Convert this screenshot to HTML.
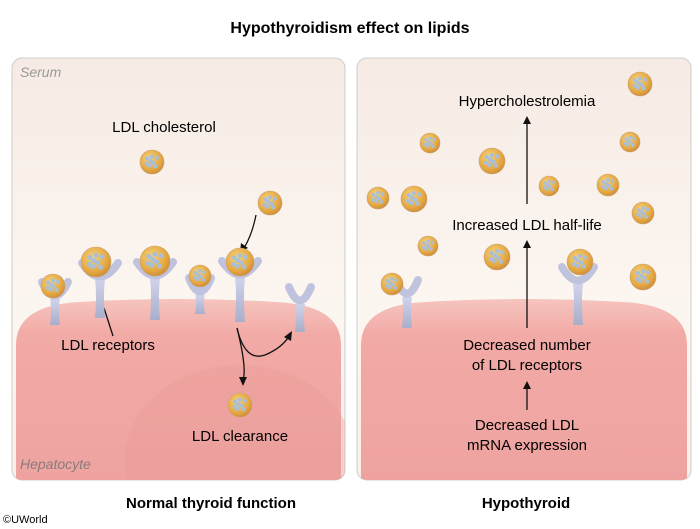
<!DOCTYPE html>
<html><head><meta charset="utf-8"><style>
body{margin:0;background:#fff;}
svg{display:block;font-family:"Liberation Sans",sans-serif;}
</style></head><body>
<svg id="s" width="700" height="529" viewBox="0 0 700 529">
<defs>
<linearGradient id="bg" x1="0" y1="0" x2="0" y2="1"><stop offset="0" stop-color="#f6ebe4"/><stop offset="0.6" stop-color="#fcf6f1"/><stop offset="1" stop-color="#fbefe8"/></linearGradient>
<linearGradient id="cell" x1="0" y1="0" x2="0" y2="1"><stop offset="0" stop-color="#f6c4be"/><stop offset="0.2" stop-color="#f2aaa6"/><stop offset="1" stop-color="#eea3a0"/></linearGradient>
<radialGradient id="ldl" cx="0.4" cy="0.35" r="0.7"><stop offset="0" stop-color="#f6d27a"/><stop offset="0.7" stop-color="#e4a640"/><stop offset="1" stop-color="#c98a3a"/></radialGradient>
<linearGradient id="rc" x1="0" y1="0" x2="0" y2="1"><stop offset="0" stop-color="#d0d3ea"/><stop offset="1" stop-color="#a9aecb"/></linearGradient>
<clipPath id="cl"><rect x="12" y="58" width="333" height="422" rx="10"/></clipPath>
<clipPath id="cr"><rect x="357" y="58" width="334" height="422" rx="10"/></clipPath>
</defs>
<text x="350" y="33" text-anchor="middle" font-size="16" font-weight="bold">Hypothyroidism effect on lipids</text>

<g>
<rect x="12" y="58" width="333" height="422" rx="10" fill="url(#bg)" stroke="#ccc" stroke-width="1"/>
<g clip-path="url(#cl)"><path d="M16 480 L16 345 Q16 305 80 302 Q178 296 276 302 Q341 305 341 345 L341 480 Z" fill="url(#cell)"/>
<ellipse cx="240" cy="460" rx="115" ry="95" fill="#e99a98" opacity="0.35"/></g>
<text x="20" y="77" font-size="14" font-style="italic" fill="#999">Serum</text>
<text x="20" y="469" font-size="14" font-style="italic" fill="#8a7a7a">Hepatocyte</text>
<text x="164" y="132" text-anchor="middle" font-size="15">LDL cholesterol</text>
<text x="108" y="350" text-anchor="middle" font-size="15">LDL receptors</text>
<text x="240" y="441" text-anchor="middle" font-size="15">LDL clearance</text>
<g fill="none" stroke="#111" stroke-width="1.3">
<path d="M104 308 L113 336"/>
<path d="M256 215 Q252 235 244 248"/>
<path d="M237 328 Q247 368 243 380"/>
<path d="M237 328 Q245 362 265 355 Q282 348 290 335"/>
</g>
<g fill="#111"><path d="M240 252 L241 243 L248 248 Z"/><path d="M243 386 L239 377 L247 377 Z"/><path d="M292 331 L284 337 L291 341 Z"/></g>
<g id="gl"></g>
</g>

<g>
<rect x="357" y="58" width="334" height="422" rx="10" fill="url(#bg)" stroke="#ccc" stroke-width="1"/>
<g clip-path="url(#cr)"><path d="M361 480 L361 345 Q361 305 425 302 Q524 296 623 302 Q687 305 687 345 L687 480 Z" fill="url(#cell)"/></g>
<text x="527" y="106" text-anchor="middle" font-size="15">Hypercholestrolemia</text>
<text x="527" y="230" text-anchor="middle" font-size="15">Increased LDL half-life</text>
<text x="527" y="350" text-anchor="middle" font-size="15">Decreased number</text>
<text x="527" y="370" text-anchor="middle" font-size="15">of LDL receptors</text>
<text x="527" y="430" text-anchor="middle" font-size="15">Decreased LDL</text>
<text x="527" y="450" text-anchor="middle" font-size="15">mRNA expression</text>
<g stroke="#111" stroke-width="1.3">
<line x1="527" y1="204" x2="527" y2="122"/><line x1="527" y1="328" x2="527" y2="246"/><line x1="527" y1="410" x2="527" y2="387"/>
</g>
<g fill="#111"><path d="M527 116 L523 124 L531 124 Z"/><path d="M527 240 L523 248 L531 248 Z"/><path d="M527 381 L523 389 L531 389 Z"/></g>
<g id="gr"></g>
</g>

<text x="211" y="508" text-anchor="middle" font-size="15" font-weight="bold">Normal thyroid function</text>
<text x="526" y="508" text-anchor="middle" font-size="15" font-weight="bold">Hypothyroid</text>
<text x="3" y="523" font-size="11">©UWorld</text>
</svg>
<script>
const NS="http://www.w3.org/2000/svg";
function mk(t,a,p){const e=document.createElementNS(NS,t);for(const k in a)e.setAttribute(k,a[k]);p.appendChild(e);return e;}
function ldl(p,x,y,r){
 const g=mk('g',{},p);
 
 
 mk('circle',{cx:x,cy:y,r:r,fill:'url(#ldl)',stroke:'#c9a070','stroke-width':0.6},g);
 const d=[[-0.4,-0.3],[-0.15,-0.1],[0.1,0.05],[-0.45,0.15],[-0.2,0.3],[0.3,0.35],[0.4,-0.35],[0,-0.45]];
 d.forEach(o=>mk('circle',{cx:x+o[0]*r,cy:y+o[1]*r,r:r*0.17,fill:'#a9bfd8'},g));
 return g;
}
function rec(p,x,top,base,w){
 const g=mk('g',{},p);
 
 
 mk('path',{d:`M${x-5} ${top+10} Q${x-3} ${(top+base)/2} ${x-5} ${base} L${x+5} ${base} Q${x+3} ${(top+base)/2} ${x+5} ${top+10} Z`,fill:'url(#rc)'},g);
 mk('path',{d:`M${x-w+4} ${top-7} Q${x} ${top+20} ${x+w-4} ${top-7}`,fill:'none',stroke:'#bfc3de','stroke-width':8,'stroke-linecap':'round'},g);
}
const gl=document.getElementById('gl'),gr=document.getElementById('gr');
const L=[[55,289,325,17],[100,270,318,22],[155,269,320,22],[200,285,314,15],[240,268,322,22],[300,294,332,15]];
L.forEach(r=>rec(gl,r[0],r[1],r[2],r[3]));
ldl(gl,152,162,12);ldl(gl,270,203,12);ldl(gl,53,286,12);ldl(gl,96,262,15);ldl(gl,155,261,15);ldl(gl,200,276,11);ldl(gl,240,262,14);ldl(gl,240,405,12);
rec(gr,407,287,328,15);rec(gr,578,274,325,20);
const P=[[640,84,12],[430,143,10],[492,161,13],[630,142,10],[378,198,11],[414,199,13],[549,186,10],[608,185,11],[643,213,11],[428,246,10],[497,257,13],[643,277,13],[392,284,11],[580,262,13]];
P.forEach(q=>ldl(gr,q[0],q[1],q[2]));
</script>
</body></html>
